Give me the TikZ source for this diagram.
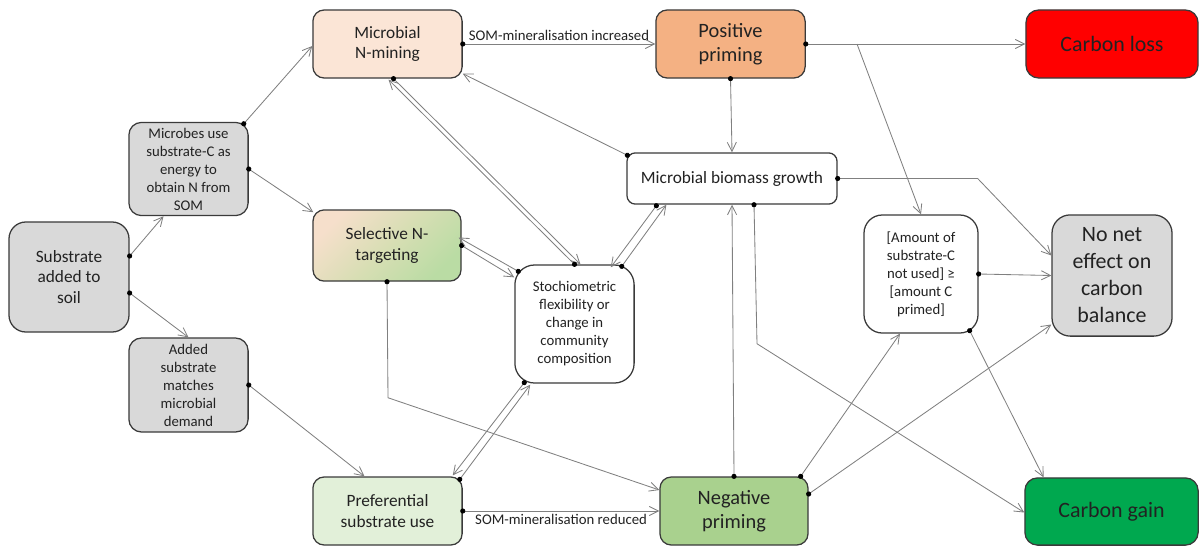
\documentclass[tikz,border=0pt]{standalone}
\usepackage{fontspec}
\setmainfont{Carlito}
\usepackage{tikz}
\usetikzlibrary{arrows.meta,calc}

\definecolor{boxline}{HTML}{3A3A3A}
\definecolor{boxtext}{HTML}{222222}
\definecolor{linkgrey}{HTML}{808080}
\definecolor{boxgrey}{HTML}{D9D9D9}
\definecolor{minefill}{HTML}{FBE5D6}
\definecolor{posfill}{HTML}{F4B183}
\definecolor{lossfill}{HTML}{FF0000}
\definecolor{selpeach}{HTML}{F6DFCB}
\definecolor{selkhaki}{HTML}{D8DEB4}
\definecolor{selgreen}{HTML}{BADCA4}
\definecolor{preffill}{HTML}{E2F0D9}
\definecolor{negfill}{HTML}{A9D18E}
\definecolor{gainfill}{HTML}{00A84F}

\tikzset{
    box/.style={draw=boxline, line width=0.9pt, align=center, text=boxtext, inner sep=1pt},
    smalltext/.style={font=\fontsize{10.5}{12.8}\selectfont},
    midtext/.style={font=\fontsize{12.3}{14.6}\selectfont},
    bigtext/.style={font=\fontsize{14.5}{17}\selectfont},
    hugetext/.style={font=\fontsize{15.6}{19.2}\selectfont},
    edgetext/.style={font=\fontsize{10.5}{12.8}\selectfont, text=boxtext, inner sep=2pt},
    link/.style={draw=linkgrey, line width=0.6pt, shorten <=-1.8pt,
        arrows={Circle[length=3.6pt,color=black]-Straight Barb[length=6.5pt,width=6.5pt]}},
    branch/.style={draw=linkgrey, line width=0.6pt, -{Straight Barb[length=6.5pt,width=6.5pt]}}
}

\begin{document}
\begin{tikzpicture}[x=0.025cm, y=-0.025cm]
    \useasboundingbox (0, 0) rectangle (1200, 546);

    \node[box, fill=boxgrey, midtext, minimum width=3cm, minimum height=2.75cm, rounded corners=12pt] (sub) at (69, 277) {Substrate\\added to\\soil};
    \node[box, fill=boxgrey, smalltext, minimum width=2.98cm, minimum height=2.33cm, rounded corners=9pt] (use) at (188.5, 169) {Microbes use\\substrate-C as\\energy to\\obtain N from\\SOM};
    \node[box, fill=boxgrey, smalltext, minimum width=2.98cm, minimum height=2.35cm, rounded corners=9pt] (match) at (188.5, 385) {Added\\substrate\\matches\\microbial\\demand};

    \node[box, fill=minefill, midtext, minimum width=3.73cm, minimum height=1.7cm, rounded corners=8pt] (mine) at (387.5, 44) {Microbial\\N-mining};
    \node[box, top color=selpeach, bottom color=selgreen, middle color=selkhaki, shading angle=45, midtext, minimum width=3.7cm, minimum height=1.78cm, rounded corners=8pt] (sel) at (387, 245.5) {Selective N-\\targeting};
    \node[box, fill=preffill, midtext, minimum width=3.73cm, minimum height=1.7cm, rounded corners=8pt] (pref) at (387.5, 511) {Preferential\\substrate use};

    \node[box, fill=white, smalltext, minimum width=2.98cm, minimum height=2.95cm, rounded corners=14pt] (stoich) at (574.5, 324) {Stochiometric\\flexibility or\\change in\\community\\composition};
    \node[box, fill=posfill, bigtext, minimum width=3.73cm, minimum height=1.7cm, rounded corners=8pt] (pos) at (730.5, 44) {Positive\\priming};
    \node[box, fill=white, midtext, minimum width=5.25cm, minimum height=1.28cm, rounded corners=6pt] (grow) at (732, 178.5) {Microbial biomass growth};
    \node[box, fill=negfill, bigtext, minimum width=3.7cm, minimum height=1.7cm, rounded corners=8pt] (neg) at (734, 511) {Negative\\priming};

    \node[box, fill=white, smalltext, minimum width=2.85cm, minimum height=2.95cm, rounded corners=13pt] (amt) at (921, 274) {[Amount of\\substrate-C\\not used] ≥\\{[amount C}\\primed]};
    \node[box, fill=lossfill, hugetext, minimum width=4.3cm, minimum height=1.7cm, rounded corners=9pt] (loss) at (1112, 44) {Carbon loss};
    \node[box, fill=boxgrey, hugetext, minimum width=3cm, minimum height=3.03cm, rounded corners=13pt] (nonet) at (1112, 275.5) {No net\\effect on\\carbon\\balance};
    \node[box, fill=gainfill, hugetext, minimum width=4.33cm, minimum height=1.68cm, rounded corners=9pt] (gain) at (1111.5, 511.5) {Carbon gain};

    \coordinate (fork) at (857, 44);

    \draw[link] ($(sub.east)+(0,-21)$) -- ($(use.south)+(-25,0)$);
    \draw[link] ($(sub.east)+(0,16)$) -- (match.north);
    \draw[link] ($(use.north east)+(-5,2)$) -- ($(mine.west)+(0,2)$);
    \draw[link] (use.east) -- ($(sel.north west)+(1,3)$);
    \draw[link] (match.east) -- ($(pref.north)+(-23,0)$);

    \draw[link] (mine.east) -- node[above, edgetext] {SOM-mineralisation increased} (pos.west);
    \draw[link] (pref.east) -- node[below, edgetext] {SOM-mineralisation reduced} (neg.west);
    \draw[link] (pos.east) -- (loss.west);
    \draw[branch] (fork) -- (amt.north);
    \draw[link] (pos.south) -- (grow.north);

    \draw[link] ($(mine.south)+(6,0)$) -- ($(stoich.north)+(6,0)$);
    \draw[link] (stoich.north) -- ($(mine.south)+(1,1)$);
    \draw[link] (sel.east) -- ($(stoich.north west)+(0,13)$);
    \draw[link] ($(stoich.north west)+(4,7)$) -- ($(sel.east)+(-3,-8)$);
    \draw[link] ($(grow.south west)+(30,1)$) -- ($(stoich.north east)+(-24,3)$);
    \draw[link] ($(stoich.north east)+(-13,2)$) -- ($(grow.south west)+(40,0)$);
    \draw[link] ($(pref.north east)+(-3,3)$) -- ($(stoich.south west)+(16,1)$);
    \draw[link] ($(stoich.south west)+(10,-1)$) -- ($(pref.north east)+(-10,-1)$);

    \draw[link] ($(grow.north west)+(1,3)$) -- ($(mine.south east)+(0,-5)$);
    \draw[link] (grow.east) -- ($(grow.east)+(140,0)$) -- ($(nonet.west)+(0,-20)$);
    \draw[link] ($(grow.south)+(22,0)$) -- ($(grow.south)+(25,139)$) -- ($(gain.west)+(0,1)$);
    \draw[link] (sel.south) -- ($(sel.south)+(1,116)$) -- ($(neg.west)+(0,-21)$);

    \draw[link] (neg.north) -- (grow.south);
    \draw[link] ($(neg.north east)+(-8,0)$) -- ($(amt.south)+(-21,0)$);
    \draw[link] ($(neg.east)+(0,-17)$) -- ($(nonet.west)+(0,49)$);
    \draw[link] (amt.east) -- (nonet.west);
    \draw[link] ($(amt.south east)+(-9,-3)$) -- ($(gain.north)+(-68,0)$);
\end{tikzpicture}
\end{document}
